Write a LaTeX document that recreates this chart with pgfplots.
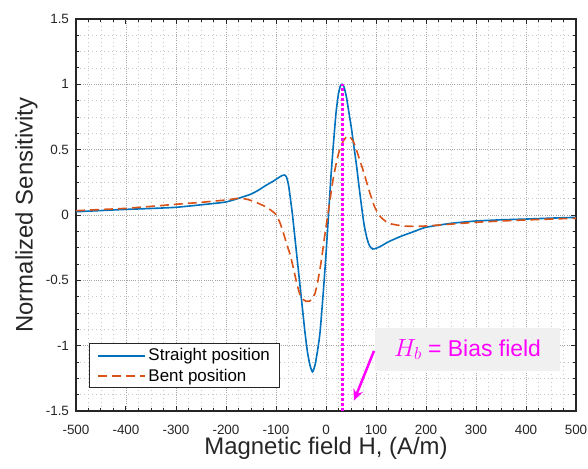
\documentclass[border=0pt]{standalone}
\usepackage{fontspec}
\setmainfont{Liberation Sans}
\usepackage{pgfplots}
\pgfplotsset{compat=1.18}
\usetikzlibrary{arrows.meta}
\definecolor{mblue}{RGB}{0,114,189}
\definecolor{morange}{RGB}{217,83,25}
\definecolor{axgray}{RGB}{38,38,38}
\definecolor{mag}{RGB}{255,0,255}
\definecolor{boxgray}{RGB}{240,240,240}
\begin{document}
\begin{tikzpicture}
\begin{axis}[
  scale only axis, width=500bp, height=392bp,
  xmin=-500, xmax=500, ymin=-1.5, ymax=1.5,
  xtick={-500,-400,...,500}, ytick={-1.5,-1,...,1.5},
  minor x tick num=3, minor y tick num=3,
  xtick pos=both, ytick pos=both, tick align=inside,
  major tick length=5bp, minor tick length=3bp,
  axis line style={axgray, line width=1.6bp},
  tick style={axgray, line width=1bp},
  grid=both,
  major grid style={color=gray!70, line width=0.9bp, dash pattern=on 1bp off 1.2bp},
  minor grid style={color=gray!45, line width=0.7bp, dash pattern=on 1bp off 3bp},
  /pgf/number format/assume math mode=true,
  ticklabel style={font=\fontsize{13.5}{14}\selectfont, text=axgray},
  xticklabel style={anchor=center, yshift=-19bp},
  yticklabel style={anchor=east, xshift=-3.5bp},
  xlabel={Magnetic field H, (A/m)},
  ylabel={Normalized Sensitivity},
  label style={font=\fontsize{24}{26}\selectfont, text=axgray},
  xlabel style={at={(axis description cs:0.5,-0.0964)}, anchor=center},
  ylabel style={at={(axis description cs:-0.099,0.5)}, anchor=center, rotate=0},
  legend style={at={(0.027,0.173)}, anchor=north west, draw=axgray, line width=1bp,
    fill=white, font=\fontsize{17}{18}\selectfont, inner xsep=7bp, inner ysep=4bp,
    row sep=4.5bp, nodes={inner xsep=2.5bp, inner ysep=1bp}},
  legend cell align=left,
  legend image code/.code={\draw[#1, line width=2bp] (0bp,0bp) -- (47bp,0bp);},
]
\addplot[mblue, line width=1.6bp, smooth, tension=0.4] coordinates {
(-500,0.025) (-450,0.034) (-400,0.043) (-350,0.05) (-300,0.059) (-250,0.078)
(-200,0.10) (-165,0.14) (-150,0.16) (-135,0.19) (-120,0.227) (-105,0.26)
(-95,0.285) (-88,0.302) (-83,0.306) (-79,0.29) (-75,0.23) (-71,0.12)
(-67,0.0) (-62,-0.18) (-57,-0.36) (-52,-0.54) (-47,-0.72) (-42,-0.9)
(-37,-1.05) (-32,-1.15) (-27,-1.2) (-22,-1.15) (-17,-1.04) (-12,-0.9)
(-6,-0.62) (0,-0.3) (5,0.0) (10,0.3) (15,0.55) (20,0.78) (25,0.93)
(29,0.99) (32,1.0) (36,0.98) (41,0.9) (46,0.78) (51,0.66) (56,0.52)
(61,0.38) (66,0.22) (71,0.07) (76,-0.07) (82,-0.18) (87,-0.235) (93,-0.26)
(100,-0.255) (110,-0.238) (125,-0.205) (148,-0.166) (175,-0.128) (200,-0.094)
(250,-0.064) (300,-0.046) (350,-0.037) (400,-0.031) (450,-0.024) (500,-0.018)
};
\addlegendentry{Straight position}
\addplot[morange, line width=1.6bp, dash pattern=on 9bp off 5bp, smooth, tension=0.4] coordinates {
(-500,0.033) (-450,0.042) (-400,0.051) (-350,0.066) (-300,0.082) (-250,0.097)
(-200,0.115) (-175,0.128) (-160,0.122) (-145,0.105) (-130,0.08) (-118,0.058)
(-108,0.03) (-100,0.003) (-92,-0.06) (-85,-0.14) (-78,-0.23) (-72,-0.30)
(-65,-0.41) (-58,-0.53) (-52,-0.61) (-46,-0.645) (-40,-0.66) (-34,-0.66)
(-28,-0.645) (-22,-0.6) (-16,-0.5) (-9,-0.34) (-3,-0.17) (2,-0.04) (8,0.115)
(15,0.29) (25,0.47) (35,0.57) (45,0.605) (55,0.56) (65,0.45) (76,0.32)
(86,0.19) (97,0.064) (108,-0.01) (120,-0.05) (130,-0.068) (155,-0.084)
(180,-0.087) (200,-0.084) (250,-0.07) (300,-0.056) (350,-0.046) (400,-0.038)
(450,-0.031) (500,-0.025)
};
\addlegendentry{Bent position}
\addplot[mag, line width=3bp, dash pattern=on 2.6bp off 2.4bp, forget plot] coordinates {(32,-1.5) (32,1.0)};
\node[fill=boxgray, text=mag, minimum width=185bp, minimum height=42.4bp, inner sep=0pt,
  font=\fontsize{23}{24}\selectfont] at (axis cs:283,-1.03) {$H_b$ = Bias field};
\draw[mag, line width=2.5bp, -{Stealth[length=11bp,width=10bp]}] (axis cs:96,-1.04) -- (axis cs:56,-1.42);
\end{axis}
\pgfresetboundingbox
\path[use as bounding box] ([xshift=-76bp,yshift=-58bp]current axis.south west) rectangle ([xshift=12bp,yshift=19bp]current axis.north east);
\end{tikzpicture}
\end{document}
